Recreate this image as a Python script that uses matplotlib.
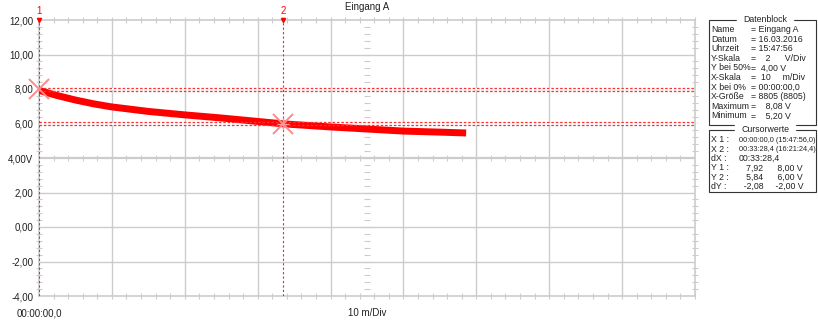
import matplotlib
matplotlib.use("Agg")
import matplotlib.pyplot as plt
from matplotlib.patches import Rectangle
from matplotlib.transforms import offset_copy
import numpy as np

plt.rcParams["font.family"] = ["Liberation Sans Narrow", "Liberation Sans", "DejaVu Sans"]

time_min = [0, 2.5, 5, 7.5, 10, 15, 20, 25, 30, 33.5, 40, 45, 50, 55, 58.6]
volts = [7.92, 7.62, 7.36, 7.14, 6.96, 6.70, 6.50, 6.32, 6.12, 5.98, 5.80, 5.68, 5.56, 5.50, 5.45]

y_ticks = [12, 10, 8, 6, 4, 2, 0, -2, -4]
y_labels = ["12,00", "10,00", "8,00", "6,00", "4,00V", "2,00", "0,00", "-2,00", "-4,00"]
x_labels = ["00:00:00,0", "10 m/Div"]

cursor_x = [0, 33.473]
cursor_y = [8.00, 6.00]
cursor_names = ["1", "2"]

datenblock = [
    ("Name", "= Eingang A"),
    ("Datum", "= 16.03.2016"),
    ("Uhrzeit", "= 15:47:56"),
    ("Y-Skala", "=    2      V/Div"),
    ("Y bei 50%", "=  4,00 V"),
    ("X-Skala", "=  10     m/Div"),
    ("X bei 0%", "= 00:00:00,0"),
    ("X-Größe", "= 8805 (8805)"),
    ("Maximum", "=    8,08 V"),
    ("Minimum", "=    5,20 V"),
]
cursorwerte = [
    ("X 1 :", "00:00:00,0 (15:47:56,0)"),
    ("X 2 :", "00:33:28,4 (16:21:24,4)"),
    ("dX :", "00:33:28,4"),
    ("Y 1 :", "   7,92      8,00 V"),
    ("Y 2 :", "   5,84      6,00 V"),
    ("dY :", "  -2,08     -2,00 V"),
]

W, H = 818, 320
fig = plt.figure(figsize=(W / 100, H / 100), dpi=100)
ax = fig.add_axes([39 / W, 1 - 296 / H, (695 - 39) / W, (296 - 20) / H])

grid_c = "#cccccc"
red = "#ff0000"
txt_c = "#222222"

ax.set_xlim(0, 90)
ax.set_ylim(-4, 12)
for s in ax.spines.values():
    s.set_color(grid_c)
    s.set_linewidth(1.2)

# grid
for gx in range(10, 90, 10):
    ax.axvline(gx, color=grid_c, lw=1, zorder=0)
for gy in y_ticks[1:-1]:
    ax.axhline(gy, color=grid_c, lw=1.6 if gy == 4 else 1, zorder=0)

ax.set_yticks(y_ticks, y_labels)
ax.set_xticks([0, 45], x_labels)
ax.tick_params(axis="both", length=0, labelsize=7, colors=txt_c)
ax.tick_params(axis="x", pad=9)
ax.tick_params(axis="y", pad=4)
ax.set_xticks(np.arange(0, 91, 2), minor=True)
ax.set_yticks(np.arange(-4, 12.01, 0.4), minor=True)
ax.tick_params(which="minor", direction="inout", length=5, width=0.8, color=grid_c,
               top=True, right=True)

# ticks on the centre lines
xm = np.arange(2, 90, 2)
ax.plot(xm, np.full_like(xm, 4.0, dtype=float), "|", ms=5, mew=0.8, color=grid_c, zorder=1)
ym = np.arange(-3.6, 12, 0.4)
ax.plot(np.full_like(ym, 45.0), ym, "_", ms=5, mew=0.8, color=grid_c, zorder=1)

# signal
ax.plot(time_min, volts, color=red, lw=5, solid_capstyle="butt", zorder=3)

# cursors
for cx, name in zip(cursor_x, cursor_names):
    ax.axvline(cx, color="#ff2020", lw=0.8, ls=(0, (2, 2)), zorder=4)
    ax.plot([cx], [12], marker="v", ms=3, color=red, clip_on=False, zorder=5)
    ax.text(cx, 12.25, name, color=red, fontsize=7, ha="center", va="bottom")
for cy in cursor_y:
    ax.axhline(cy, color="white", lw=1.5, zorder=1)
    for off in (-1.5, 1.5):
        tr = offset_copy(ax.transData, fig=fig, y=off, units="dots")
        ax.plot([0, 90], [cy, cy], color="#ff3030", lw=0.9, ls=(0, (2, 1.5)), transform=tr, zorder=4)
ax.plot(cursor_x, cursor_y, "x", ms=15, mew=1.4, color="#ff8a8a", zorder=5, clip_on=False)
ax.plot(cursor_x[1:], cursor_y[1:], "+", ms=9, mew=1.0, color="#ff9a9a", zorder=5)

ax.text(45, 12.45, "Eingang A", fontsize=7, ha="center", va="bottom", color=txt_c)

# info panel
fs = 6.3
def box(y0, y1, title):
    fig.add_artist(Rectangle((709 / W, 1 - y1 / H), (816 - 709) / W, (y1 - y0) / H,
                             transform=fig.transFigure, fill=False, lw=0.8, ec="#333333"))
    fig.text(765 / W, 1 - y0 / H, title, fontsize=fs, ha="center", va="center",
             backgroundcolor="white", color=txt_c)

box(20, 125, "Datenblock")
for i, (k, v) in enumerate(datenblock):
    yy = 1 - (29.5 + i * 9.6) / H
    fig.text(711 / W, yy, k, fontsize=fs, va="center", color=txt_c)
    fig.text(751 / W, yy, v, fontsize=fs, va="center", color=txt_c)

box(130, 192, "Cursorwerte")
for i, (k, v) in enumerate(cursorwerte):
    yy = 1 - (140 + i * 9.3) / H
    fig.text(711 / W, yy, k, fontsize=fs, va="center", color=txt_c)
    fig.text(739 / W, yy, v, fontsize=5.3 if i < 2 else fs, va="center", color=txt_c)

fig.savefig("out.png", dpi=100, facecolor="white")
